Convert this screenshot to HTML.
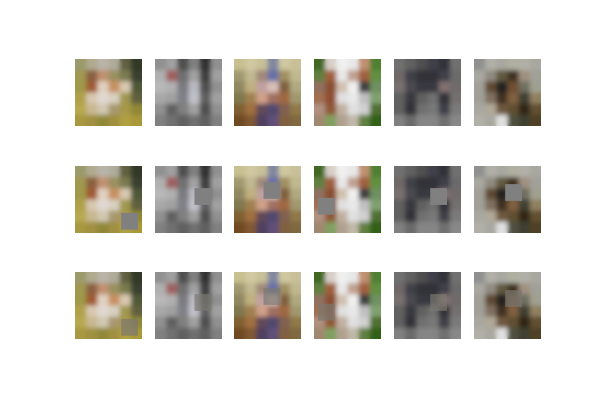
<!DOCTYPE html>
<html><head><meta charset="utf-8"><style>
html,body{margin:0;padding:0;background:#fff;width:600px;height:400px;overflow:hidden}
svg{display:block}
</style></head><body>
<svg id="fig" width="600" height="400" xmlns="http://www.w3.org/2000/svg">
<defs><filter id="soft" x="-0.1" y="-0.1" width="1.2" height="1.2"><feGaussianBlur stdDeviation="2.5"/></filter></defs>
</svg>
<script>
const colX=[75,155,234,314,394,474];
const rowY=[59,166,272];
const S=67;
const imgs=[
[["#9a9a6a","#b0aa90","#b8b4a8","#b0ac9c","#606040","#303828"],
 ["#a09850","#8a6040","#c09070","#9a9060","#7a7a50","#3a4030"],
 ["#a09848","#a05a30","#e0d0c0","#c89060","#d8c8b0","#505838"],
 ["#b0a048","#d8c8b0","#e0d8d0","#d8d0c0","#a09850","#606040"],
 ["#b8a850","#c8b890","#d0c8b0","#a89870","#a89848","#908838"],
 ["#a89840","#a09040","#908838","#a09040","#b0a040","#a89838"]],
[["#909090","#a0a0a0","#505050","#808080","#303030","#909090"],
 ["#b0b0b0","#a06060","#707070","#a0a0a0","#404040","#a0a0a0"],
 ["#b8b8b8","#b0b0b0","#7a7a80","#b8b8c0","#505050","#909090"],
 ["#a8a8a8","#a0a0a0","#808088","#c0c0c8","#606060","#a0a0a0"],
 ["#909090","#606060","#808080","#a0a0a0","#505050","#909090"],
 ["#808080","#707070","#606060","#707070","#606060","#808080"]],
[["#c8c090","#d0c8a0","#c8c098","#8088a0","#d0c8a0","#c8c098"],
 ["#a09870","#c0b890","#a08878","#6870a8","#a09060","#c0b890"],
 ["#908860","#c0b080","#c0a0a0","#d8c0b8","#806040","#b0a880"],
 ["#807850","#a08050","#d0a088","#a07060","#a06840","#a09870"],
 ["#806030","#a07040","#604858","#504870","#806050","#907848"],
 ["#704820","#805830","#504060","#605078","#806040","#806840"]],
[["#406820","#d8d0c8","#f0f0f0","#e8e8e8","#c09070","#508030"],
 ["#608040","#a06040","#e8e8e8","#c0a090","#a06040","#609040"],
 ["#907060","#8a5030","#d0c0b0","#f0f0f0","#404040","#709060"],
 ["#a07050","#904e30","#e0e0e0","#e8e8e8","#c0c0c0","#80a070"],
 ["#b09080","#905838","#c0b0a0","#e0e0e0","#d0d0d0","#507030"],
 ["#a08870","#80a060","#b0a090","#c0b8a8","#608040","#306018"]],
[["#707070","#606060","#505050","#404048","#303038","#707070"],
 ["#706868","#404048","#303038","#303038","#404048","#6a6a6a"],
 ["#787070","#484850","#383840","#383840","#807070","#706a6a"],
 ["#606060","#383840","#606060","#707070","#303038","#757070"],
 ["#606060","#303038","#707070","#787878","#404048","#7a7a7a"],
 ["#808080","#6a6a6a","#858585","#858585","#707070","#888888"]],
[["#909090","#b0b0a8","#a8a8a0","#b0b0a0","#b0b0a8","#a8a8a0"],
 ["#a8a8a0","#908a80","#605840","#403020","#a09080","#a0a098"],
 ["#a0a098","#604830","#202020","#705030","#707060","#a0a090"],
 ["#a0a098","#807060","#403020","#806040","#404030","#908060"],
 ["#a8a8a0","#b0a898","#705840","#605030","#302818","#605030"],
 ["#b0b0a8","#a8a8a0","#e0e0e0","#505040","#404030","#504028"]]
];
const patchX=[0.69,0.59,0.44,0.06,0.54,0.465];
const patchY=[0.70,0.33,0.24,0.475,0.33,0.27];
const NS="http://www.w3.org/2000/svg";
const svg=document.getElementById('fig');
const defs=svg.querySelector('defs');
function rect(x,y,w,h,f,op){const r=document.createElementNS(NS,'rect');r.setAttribute('x',x);r.setAttribute('y',y);r.setAttribute('width',w);r.setAttribute('height',h);r.setAttribute('fill',f);if(op!==undefined)r.setAttribute('opacity',op);return r;}
let k=0;
for(let r=0;r<3;r++){for(let c=0;c<6;c++){
  const g=document.createElementNS(NS,'g');
  
  
  const x0=colX[c],y0=rowY[r],n=6,cs=S/n;
  const cp=document.createElementNS(NS,'clipPath');cp.setAttribute('id','cp'+k);
  cp.appendChild(rect(x0,y0,S,S,'#000'));defs.appendChild(cp);
  const sharp=document.createElementNS(NS,'g');
  const base=document.createElementNS(NS,'g');
  base.setAttribute('filter','url(#soft)');
  for(let i=0;i<n;i++)for(let j=0;j<n;j++){
    sharp.appendChild(rect((x0+j*cs).toFixed(2),(y0+i*cs).toFixed(2),(cs+0.5).toFixed(2),(cs+0.5).toFixed(2),imgs[c][i][j]));
    base.appendChild(rect((x0+j*cs).toFixed(2),(y0+i*cs).toFixed(2),(cs+0.5).toFixed(2),(cs+0.5).toFixed(2),imgs[c][i][j]));
  }
  const wrap=document.createElementNS(NS,'g');
  wrap.setAttribute('clip-path','url(#cp'+k+')');
  wrap.appendChild(sharp);wrap.appendChild(base);
  g.appendChild(wrap);
  if(r>0){
    const px=x0+patchX[c]*S,py=y0+patchY[c]*S,ps=S*0.25;
    const p=rect(px.toFixed(1),py.toFixed(1),ps.toFixed(1),ps.toFixed(1),r===1?'#808080':'#7a7870',r===1?1:0.7);
    
    
    g.appendChild(p);
  }
  svg.appendChild(g);
  k++;
}}
</script>
</body></html>
